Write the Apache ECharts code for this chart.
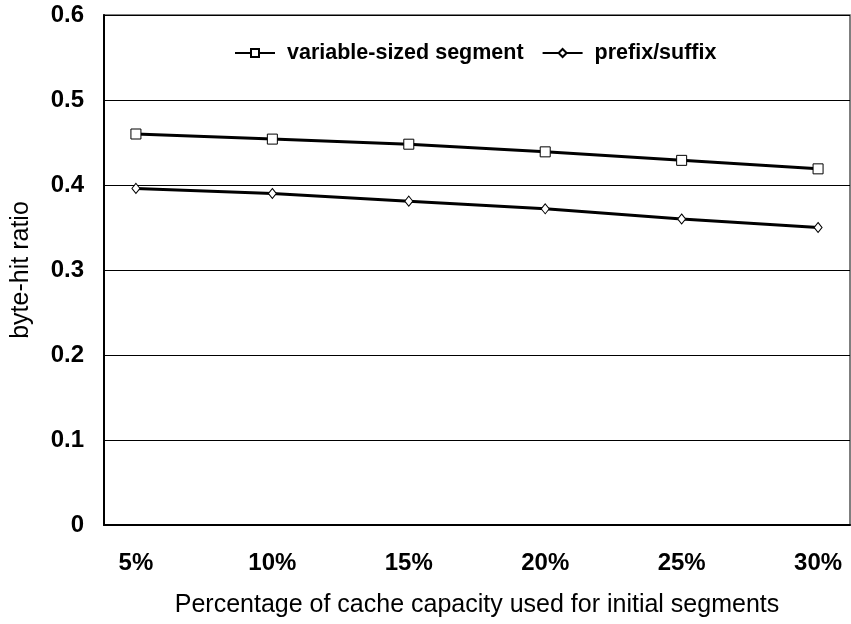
<!DOCTYPE html>
<html>
<head>
<meta charset="utf-8">
<script src="https://cdn.jsdelivr.net/npm/echarts@6/dist/echarts.min.js"></script>
<style>
  html, body { margin: 0; padding: 0; background: #fff; }
  #main { width: 851px; height: 624px; }
</style>
</head>
<body>
<div id="main"></div>
<script>
// 横轴：初始段占缓存容量的百分比
const categories = ['5%', '10%', '15%', '20%', '25%', '30%']
const xValues = [5, 10, 15, 20, 25, 30]
const yTicks = [0, 0.1, 0.2, 0.3, 0.4, 0.5, 0.6]

// 两条曲线的数据
const variableSized = [0.460, 0.454, 0.448, 0.439, 0.429, 0.419]
const prefixSuffix = [0.396, 0.390, 0.381, 0.372, 0.360, 0.350]

const font = 'Arial, "Liberation Sans", sans-serif'

const myChart = echarts.init(document.getElementById('main'))

function pairs (vals) {
  return xValues.map((x, i) => [x, vals[i]])
}

const option = {
  animation: false,
  backgroundColor: '#fff',
  grid: {
    left: 104,
    right: 1,
    top: 15,
    bottom: 99,
    show: true,
    borderColor: '#555',
    borderWidth: 1.5
  },
  legend: {
    left: 229,
    top: 37,
    itemWidth: 40,
    itemHeight: 10,
    itemGap: 18,
    textStyle: { fontFamily: font, fontSize: 21.5, fontWeight: 'bold', color: '#000', padding: [0, 0, 0, 7] },
    data: ['variable-sized segment', 'prefix/suffix']
  },
  xAxis: {
    type: 'value',
    min: 3.83,
    max: 31.17,
    name: 'Percentage of cache capacity used for initial segments',
    nameLocation: 'middle',
    nameGap: 68,
    nameTextStyle: { fontFamily: font, fontSize: 25, color: '#000' },
    axisLine: { lineStyle: { color: '#000', width: 2 } },
    axisTick: { show: false },
    splitLine: { show: false },
    axisLabel: {
      customValues: xValues,
      margin: 26,
      fontFamily: font,
      fontSize: 24,
      fontWeight: 'bold',
      color: '#000',
      formatter: v => categories[xValues.indexOf(v)]
    }
  },
  yAxis: {
    type: 'value',
    min: 0,
    max: 0.6,
    interval: 0.1,
    name: 'byte-hit ratio',
    nameLocation: 'middle',
    nameGap: 70,
    nameTextStyle: { fontFamily: font, fontSize: 25, color: '#000' },
    axisLine: { show: true, lineStyle: { color: '#000', width: 2 } },
    axisTick: { show: false },
    splitLine: { lineStyle: { color: '#000', width: 1 } },
    axisLabel: {
      margin: 20,
      fontFamily: font,
      fontSize: 24,
      fontWeight: 'bold',
      color: '#000',
      formatter: v => (yTicks.includes(+v.toFixed(1)) ? String(+v.toFixed(1)) : '')
    }
  },
  series: [
    {
      name: 'variable-sized segment',
      type: 'line',
      data: pairs(variableSized),
      symbol: 'rect',
      symbolSize: 10,
      itemStyle: { color: '#fff', borderColor: '#000', borderWidth: 1 },
      lineStyle: { color: '#000', width: 3 }
    },
    {
      name: 'prefix/suffix',
      type: 'line',
      data: pairs(prefixSuffix),
      symbol: 'diamond',
      symbolSize: [8, 10],
      itemStyle: { color: '#fff', borderColor: '#000', borderWidth: 1 },
      lineStyle: { color: '#000', width: 3 }
    }
  ]
}

myChart.setOption(option)
</script>
</body>
</html>
